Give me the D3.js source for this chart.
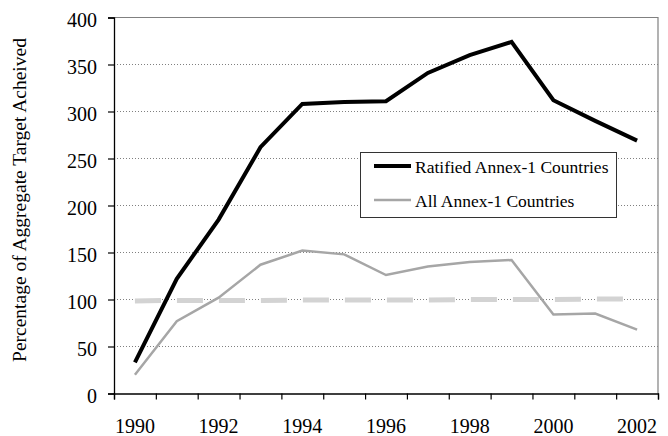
<!DOCTYPE html>
<html><head><meta charset="utf-8">
<script src="https://cdn.jsdelivr.net/npm/d3@7"></script>
<style>
body{margin:0;background:#fff;}
svg{display:block;}
svg text{font-family:"Liberation Serif","Times New Roman",serif !important;fill:#000;}
</style></head>
<body><svg id="c" width="668" height="436"></svg>
<script>
const years = [1990,1991,1992,1993,1994,1995,1996,1997,1998,1999,2000,2001,2002];
const ratified = [33,122,185,262,308,310,311,341,360,374,312,290,269];
const allAnnex = [20,77,102,137,152,148,126,135,140,142,84,85,68];
const target = [98.5,99,99,99,99.5,99.5,99.5,99.5,100,100,100,100.5,100.5];
const yTicks = [0,50,100,150,200,250,300,350,400];
const xLabels = [1990,1992,1994,1996,1998,2000,2002];
const legendLabels = ["Ratified Annex-1 Countries","All Annex-1 Countries"];
const yTitle = "Percentage of Aggregate Target Acheived";

const L=114, R=658, T=17.5, B=393.5;
const FONT = "Liberation Serif";
const svg = d3.select("#c");
const x = d3.scaleBand().domain(years).range([L,R]).padding(0);
const xi = d3.scaleLinear().domain([0,years.length]).range([L,R]);
const y = d3.scaleLinear().domain([0,400]).range([B,T]);
const cx = d => x(d)+x.bandwidth()/2;

// gridlines
svg.append("g").selectAll("line").data(yTicks.filter(v=>v>0&&v<400)).join("line")
  .attr("x1",L).attr("x2",R).attr("y1",d=>y(d)).attr("y2",d=>y(d))
  .attr("stroke","#808080").attr("stroke-width",1).attr("stroke-dasharray","1,2");
// top & right border
svg.append("path").attr("d",`M${L},${T}H${R}V${B}`).attr("fill","none")
  .attr("stroke","#808080").attr("stroke-width",1.2);

// y axis
const ya = svg.append("g").attr("transform",`translate(${L},0)`)
  .call(d3.axisLeft(y).tickValues(yTicks).tickSize(6).tickPadding(11));
ya.attr("font-family",FONT).attr("font-size",20);
ya.select(".domain").attr("stroke","#000").attr("stroke-width",1.3);
ya.selectAll(".tick line").attr("stroke","#000").attr("stroke-width",1.2);
ya.selectAll("text").attr("dy","0.46em");

// x axis ticks
const xt = svg.append("g").attr("transform",`translate(0,${B})`)
  .call(d3.axisBottom(xi).tickValues(d3.range(0,years.length+1)).tickSize(6).tickFormat(""));
xt.select(".domain").attr("stroke","#000").attr("stroke-width",1.3);
xt.selectAll(".tick line").attr("stroke","#000").attr("stroke-width",1.2);
// x labels
const xl = svg.append("g").attr("transform",`translate(0,${B})`)
  .call(d3.axisBottom(x).tickValues(xLabels).tickSize(0).tickPadding(0).tickFormat(d3.format("d")));
xl.attr("font-family",FONT).attr("font-size",20);
xl.select(".domain").remove();
xl.selectAll("text").attr("dy",null).attr("y",39.5);

// lines
const line = (arr)=>d3.line().x((d,i)=>cx(years[i])).y(d=>y(d))(arr);
svg.append("path").attr("d",line(target)).attr("fill","none")
  .attr("stroke","#d3d3d3").attr("stroke-width",5).attr("stroke-dasharray","26,16");
svg.append("path").attr("d",line(allAnnex)).attr("fill","none")
  .attr("stroke","#a6a6a6").attr("stroke-width",2.5).attr("stroke-linejoin","miter");
svg.append("path").attr("d",line(ratified)).attr("fill","none")
  .attr("stroke","#000").attr("stroke-width",4).attr("stroke-linejoin","miter");

// legend
const lg = svg.append("g");
lg.append("rect").attr("x",360.5).attr("y",152.5).attr("width",256).attr("height",65)
  .attr("fill","#fff").attr("stroke","#333").attr("stroke-width",1);
const lc = ["#000","#a6a6a6"], lw=[4,2.5], ly=[166,200];
legendLabels.forEach((t,i)=>{
  lg.append("line").attr("x1",374).attr("x2",411).attr("y1",ly[i]).attr("y2",ly[i])
    .attr("stroke",lc[i]).attr("stroke-width",lw[i]);
  lg.append("text").attr("x",415).attr("y",ly[i]+7).attr("font-size",17.5).text(t);
});

// y title
svg.append("text").attr("transform",`translate(26,200) rotate(-90)`)
  .attr("text-anchor","middle").attr("font-size",19.5).text(yTitle);
</script></body></html>
